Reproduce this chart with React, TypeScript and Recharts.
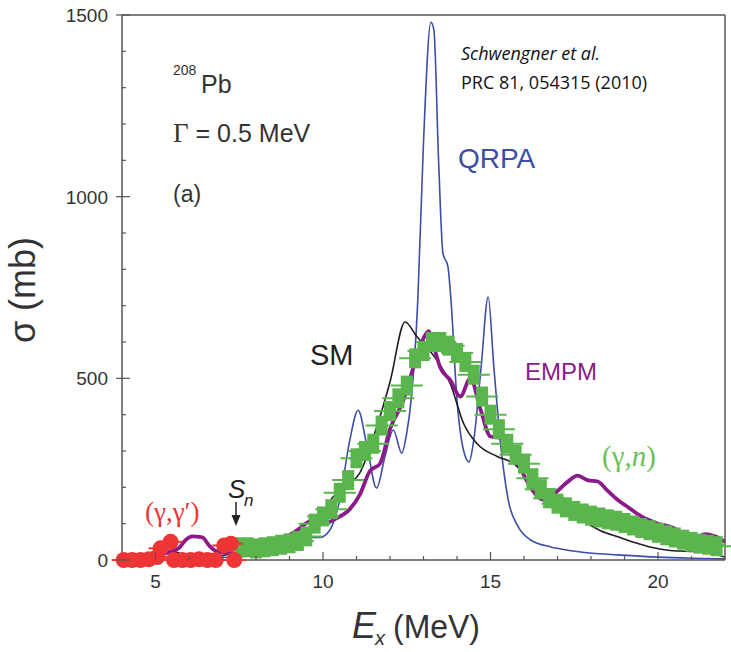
import React from 'react';
import { ComposedChart, Line, Scatter, XAxis, YAxis } from 'recharts';

// [E_x (MeV), sigma (mb)]
const qrpa: [number, number][] = [
  [4.0, 1], [5.0, 2], [6.0, 4], [7.0, 7], [7.5, 9], [8.0, 14], [8.5, 22], [9.0, 38],
  [9.3, 52], [9.6, 62], [9.9, 62], [10.2, 82], [10.5, 165], [10.8, 330], [11.05, 412],
  [11.3, 320], [11.6, 198], [11.85, 285], [12.1, 358], [12.35, 294], [12.5, 350],
  [12.63, 440], [12.83, 716], [13.0, 1150], [13.22, 1480], [13.31, 1459], [13.45, 1100],
  [13.58, 845], [13.73, 807], [13.82, 716], [14.0, 440], [14.2, 300], [14.36, 270],
  [14.5, 330], [14.72, 531], [14.93, 724], [15.1, 531], [15.32, 303], [15.53, 165],
  [15.83, 91], [16.2, 55], [16.8, 36], [17.3, 27], [18.8, 14], [20.0, 8], [21.0, 5], [22.0, 3],
];

const sm: [number, number][] = [
  [4.0, 2], [4.6, 5], [5.0, 14], [5.3, 24], [5.6, 22], [6.0, 10], [6.5, 8], [7.0, 12],
  [7.5, 24], [8.0, 32], [8.5, 40], [9.0, 55], [9.5, 75], [10.0, 115], [10.2, 160],
  [10.5, 190], [10.8, 210], [11.1, 240], [11.6, 365], [12.0, 490], [12.45, 655],
  [12.8, 615], [13.4, 550], [13.8, 485], [14.2, 375], [14.6, 320], [15.2, 285],
  [15.7, 265], [16.3, 200], [16.8, 160], [17.3, 128], [17.8, 105], [18.3, 80],
  [18.8, 64], [19.3, 48], [19.8, 35], [20.3, 27], [20.8, 24], [21.3, 22], [21.6, 18], [22.0, 8],
];

const empm: [number, number][] = [
  [4.0, 3], [4.5, 4], [4.8, 6], [5.1, 12], [5.4, 22], [5.7, 33], [5.9, 55], [6.1, 65],
  [6.4, 62], [6.6, 40], [6.8, 25], [7.1, 20], [7.5, 18], [7.8, 20], [8.1, 35], [8.4, 55],
  [8.8, 60], [9.2, 80], [9.7, 110], [10.1, 103], [10.4, 115], [10.8, 140], [11.1, 180],
  [11.4, 245], [11.7, 265], [12.0, 360], [12.4, 440], [12.7, 530], [13.0, 610],
  [13.15, 630], [13.3, 590], [13.5, 530], [13.8, 495], [14.1, 450], [14.4, 500],
  [14.7, 415], [15.0, 340], [15.4, 335], [15.8, 270], [16.1, 215], [16.4, 175],
  [16.6, 165], [17.0, 190], [17.3, 215], [17.6, 232], [17.9, 220], [18.2, 216],
  [18.5, 190], [18.8, 165], [19.1, 146], [19.5, 120], [20.0, 100], [20.5, 86],
  [20.8, 66], [21.1, 60], [21.4, 71], [21.7, 65], [22.0, 50],
];

const gammaN: [number, number][] = [
  [7.5, 35], [7.75, 35], [8.0, 32], [8.25, 35], [8.5, 38], [8.75, 42], [9.0, 46],
  [9.25, 52], [9.5, 65], [9.75, 100], [10.0, 120], [10.25, 140], [10.5, 185],
  [10.75, 220], [11.0, 280], [11.25, 300], [11.5, 320], [11.75, 370], [12.0, 410],
  [12.25, 445], [12.5, 480], [12.75, 555], [13.0, 575], [13.25, 600], [13.5, 600],
  [13.75, 590], [14.0, 570], [14.25, 545], [14.5, 510], [14.75, 450], [15.0, 400],
  [15.25, 360], [15.5, 320], [15.75, 290], [16.0, 265], [16.25, 225], [16.5, 195],
  [16.75, 170], [17.0, 155], [17.25, 145], [17.5, 135], [17.75, 128], [18.0, 122],
  [18.25, 117], [18.5, 112], [18.75, 108], [19.0, 102], [19.25, 95], [19.5, 88],
  [19.75, 82], [20.0, 75], [20.25, 68], [20.5, 62], [20.75, 56], [21.0, 50],
  [21.25, 45], [21.5, 42], [21.75, 38],
];

const gammaGamma: [number, number][] = [
  [4.05, 0], [4.3, 0], [4.55, 0], [4.8, 2], [5.05, 8], [5.15, 32], [5.45, 50], [5.55, 0],
  [5.8, 0], [6.05, 0], [6.3, 2], [6.55, 0], [6.8, 0], [7.05, 40], [7.25, 45], [7.35, 0],
];

const xTicks = [5, 6, 7, 8, 9, 10, 11, 12, 13, 14, 15, 16, 17, 18, 19, 20, 21];
const yTicks = [0, 100, 200, 300, 400, 500, 600, 700, 800, 900, 1000, 1100, 1200, 1300, 1400, 1500];

const toPts = (arr: [number, number][]) => arr.map(([x, y]) => ({ x, y }));

const FRAME = '#555';
const GREEN = '#5ab64c';
const RED = '#ee3535';
const SANS = '"Liberation Sans", Arial, Helvetica, sans-serif';
const SERIF = '"Liberation Serif", "Times New Roman", serif';

function BottomTick(props: any) {
  const { x, y, payload } = props;
  const major = payload.value % 5 === 0;
  return (
    <g>
      <line x1={x} x2={x} y1={y} y2={y - (major ? 8 : 4)} stroke={FRAME} strokeWidth={1.2} />
      {major && (
        <text x={x} y={y + 28} textAnchor="middle" fontSize={19} fontFamily={SANS} fill="#333">
          {payload.value}
        </text>
      )}
    </g>
  );
}

function TopTick(props: any) {
  const { x, y, payload } = props;
  const major = payload.value % 5 === 0;
  return <line x1={x} x2={x} y1={y} y2={y + (major ? 8 : 4)} stroke={FRAME} strokeWidth={1.2} />;
}

function LeftTick(props: any) {
  const { x, y, payload } = props;
  const major = payload.value % 500 === 0;
  return (
    <g>
      <line x1={x} x2={x + (major ? 8 : 4)} y1={y} y2={y} stroke={FRAME} strokeWidth={1.2} />
      {major && <line x1={x - 6} x2={x} y1={y} y2={y} stroke={FRAME} strokeWidth={1.2} />}
      {major && (
        <text x={x - 14} y={y + 7} textAnchor="end" fontSize={19} fontFamily={SANS} fill="#333">
          {payload.value}
        </text>
      )}
    </g>
  );
}

function RightTick(props: any) {
  const { x, y, payload } = props;
  const major = payload.value % 500 === 0;
  return <line x1={x} x2={x - (major ? 8 : 4)} y1={y} y2={y} stroke={FRAME} strokeWidth={1.2} />;
}

function GreenMark(props: any) {
  const { cx, cy } = props;
  if (cx == null || cy == null) return null;
  return (
    <g>
      <line x1={cx - 16} x2={cx + 16} y1={cy} y2={cy} stroke={GREEN} strokeWidth={2} />
      <rect x={cx - 6} y={cy - 10} width={12} height={20} fill={GREEN} />
    </g>
  );
}

function RedMark(props: any) {
  const { cx, cy } = props;
  if (cx == null || cy == null) return null;
  return (
    <g>
      <line x1={cx - 12} x2={cx + 12} y1={cy} y2={cy} stroke={RED} strokeWidth={2} />
      <circle cx={cx} cy={cy} r={8} fill={RED} />
    </g>
  );
}

export default function App() {
  const W = 731;
  const H = 652;
  return (
    <div style={{ position: 'absolute', left: 0, top: 0, width: W, height: H, background: '#fff' }}>
      <ComposedChart width={W} height={H} margin={{ top: 14, right: 5, bottom: 91, left: 121 }}>
        <XAxis
          xAxisId="b"
          type="number"
          dataKey="x"
          domain={[4, 22]}
          ticks={xTicks}
          interval={0}
          height={1}
          tickSize={0}
          tickMargin={0}
          tick={<BottomTick />}
          axisLine={{ stroke: FRAME, strokeWidth: 1.5 }}
        />
        <XAxis
          xAxisId="t"
          orientation="top"
          type="number"
          dataKey="x"
          domain={[4, 22]}
          ticks={xTicks}
          interval={0}
          height={1}
          tickSize={0}
          tickMargin={0}
          tick={<TopTick />}
          axisLine={{ stroke: FRAME, strokeWidth: 1.5 }}
        />
        <YAxis
          yAxisId="l"
          type="number"
          dataKey="y"
          domain={[0, 1500]}
          ticks={yTicks}
          interval={0}
          width={1}
          tickSize={0}
          tickMargin={0}
          tick={<LeftTick />}
          axisLine={{ stroke: FRAME, strokeWidth: 1.5 }}
        />
        <YAxis
          yAxisId="r"
          orientation="right"
          type="number"
          dataKey="y"
          domain={[0, 1500]}
          ticks={yTicks}
          interval={0}
          width={1}
          tickSize={0}
          tickMargin={0}
          tick={<RightTick />}
          axisLine={{ stroke: FRAME, strokeWidth: 1.5 }}
        />
        <Scatter
          xAxisId="b"
          yAxisId="l"
          data={toPts(gammaN)}
          shape={<GreenMark />}
          isAnimationActive={false}
        />
        <Scatter
          xAxisId="b"
          yAxisId="l"
          data={toPts(gammaGamma)}
          shape={<RedMark />}
          isAnimationActive={false}
        />
        <Line
          xAxisId="b"
          yAxisId="l"
          data={toPts(qrpa)}
          dataKey="y"
          type="monotone"
          stroke="#3c4ea6"
          strokeWidth={1.6}
          dot={false}
          isAnimationActive={false}
        />
        <Line
          xAxisId="b"
          yAxisId="l"
          data={toPts(sm)}
          dataKey="y"
          type="monotone"
          stroke="#1e1e1e"
          strokeWidth={1.6}
          dot={false}
          isAnimationActive={false}
        />
        <Line
          xAxisId="b"
          yAxisId="l"
          data={toPts(empm)}
          dataKey="y"
          type="monotone"
          stroke="#8b1a8b"
          strokeWidth={3.8}
          dot={false}
          isAnimationActive={false}
        />
      </ComposedChart>
      <svg
        width={W}
        height={H}
        style={{ position: 'absolute', left: 0, top: 0, pointerEvents: 'none' }}
      >
        <text
          x={35}
          y={290}
          transform="rotate(-90, 35, 290)"
          textAnchor="middle"
          fontSize={36}
          fontFamily={SANS}
          fill="#333"
        >
          σ (mb)
        </text>
        <text x={352} y={638} fontSize={36} fontFamily={SANS} fontStyle="italic" fill="#333">
          E
        </text>
        <text x={375} y={645} fontSize={20} fontFamily={SANS} fontStyle="italic" fill="#333">
          x
        </text>
        <text x={393} y={638} fontSize={34} fontFamily={SANS} fill="#333" textLength={87} lengthAdjust="spacingAndGlyphs">
          (MeV)
        </text>

        <text x={173} y={75} fontSize={14} fontFamily={SANS} fill="#333">208</text>
        <text x={201} y={93} fontSize={25} fontFamily={SANS} fill="#333">Pb</text>
        <text x={173} y={142} fontSize={25} fontFamily={SANS} fill="#333">
          <tspan fontFamily={SERIF} fontSize={27}>Γ</tspan> = 0.5 MeV
        </text>
        <text x={173} y={202} fontSize={23} fontFamily={SANS} fill="#333">(a)</text>

        <text x={461} y={60} fontSize={18} fontFamily='"Open Sans", sans-serif' fontStyle="italic" fill="#111">
          Schwengner et al.
        </text>
        <text x={461} y={89} fontSize={18} fontFamily='"Open Sans", sans-serif' fill="#111">
          PRC 81, 054315 (2010)
        </text>

        <text x={458} y={168} fontSize={28} fontFamily={SANS} fill="#3c4ea6">QRPA</text>
        <text x={310} y={365} fontSize={29} fontFamily={SANS} fill="#222">SM</text>
        <text x={525} y={380} fontSize={24} fontFamily={SANS} fill="#8b1a8b">EMPM</text>
        <text x={602} y={466} fontSize={29} fontFamily={SERIF} fill="#6cbf5a">
          (γ,<tspan fontStyle="italic">n</tspan>)
        </text>
        <text x={145} y={521} fontSize={27} fontFamily={SERIF} fill={RED}>(γ,γ′)</text>

        <text x={228} y={498} fontSize={26} fontFamily={SANS} fontStyle="italic" fill="#222">S</text>
        <text x={244} y={506} fontSize={17} fontFamily={SANS} fontStyle="italic" fill="#222">n</text>
        <line x1={236} x2={236} y1={502} y2={518} stroke="#222" strokeWidth={1.5} />
        <polygon points="231.5,515 240.5,515 236,526" fill="#222" />
      </svg>
    </div>
  );
}
